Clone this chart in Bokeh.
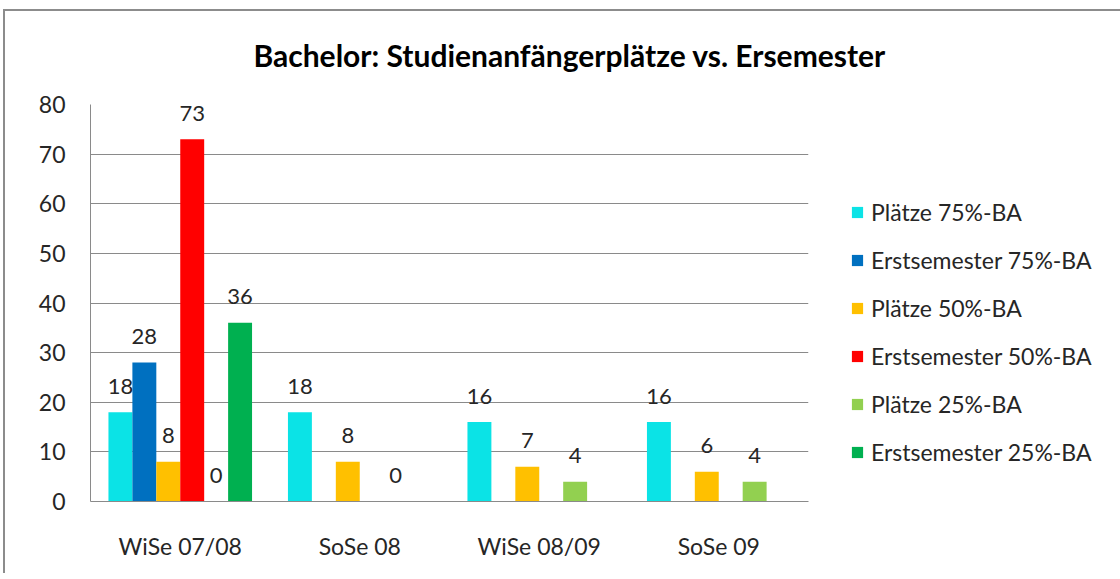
from bokeh.plotting import figure
from bokeh.models import (FactorRange, Range1d, ColumnDataSource, Legend, LegendItem,
                          Title, InlineStyleSheet)
from bokeh.transform import dodge
from bokeh.core.properties import value
from bokeh.embed import file_html
from bokeh.resources import INLINE

# ---- data ----
categories = ["WiSe 07/08", "SoSe 08", "WiSe 08/09", "SoSe 09"]
series_names = ["Plätze 75%-BA", "Erstsemester 75%-BA", "Plätze 50%-BA",
                "Erstsemester 50%-BA", "Plätze 25%-BA", "Erstsemester 25%-BA"]
plaetze_75 = [18, 18, 16, 16]
erstsemester_75 = [28, None, None, None]
plaetze_50 = [8, 8, 7, 6]
erstsemester_50 = [73, None, None, None]
plaetze_25 = [0, 0, 4, 4]
erstsemester_25 = [36, None, None, None]
series_values = [plaetze_75, erstsemester_75, plaetze_50,
                 erstsemester_50, plaetze_25, erstsemester_25]
y_ticks = [0, 10, 20, 30, 40, 50, 60, 70, 80]
title_text = "Bachelor: Studienanfängerplätze vs. Ersemester"

colors = ["#0be3e6", "#0070c0", "#ffc000", "#ff0000", "#92d050", "#00b050"]
FONT = "Lato"
TXT = "#262626"
GRID = "#8a8a8a"

p = figure(x_range=FactorRange(*categories, range_padding=0),
           y_range=Range1d(0, 80),
           frame_width=718, frame_height=397,
           output_backend="svg", toolbar_location=None,
           min_border_left=90, min_border_right=296, min_border_top=104,
           min_border_bottom=62)
p.stylesheets = [InlineStyleSheet(css="""
:host { position: relative; }
:host::before { content: ''; position: absolute; left: 3px; top: 9px; right: -10px; bottom: -10px;
  border-left: 2px solid #8c8c8c; border-top: 2px solid #8c8c8c;
  pointer-events: none; z-index: 100; }
""")]
p.outline_line_color = None
p.background_fill_color = "white"
p.border_fill_color = "white"

bar_w = 0.8 / 6
offsets = [(-2.5 + k) * bar_w for k in range(6)]

items = []
for name, vals, col, off in zip(series_names, series_values, colors, offsets):
    xs = [c for c, v in zip(categories, vals) if v is not None]
    ys = [v for v in vals if v is not None]
    src = ColumnDataSource(dict(x=xs, top=ys, label=[str(v) for v in ys]))
    r = p.vbar(x=dodge("x", off, range=p.x_range), top="top", width=bar_w,
               source=src, fill_color=col, line_color=None)
    p.text(x=dodge("x", off, range=p.x_range), y="top", text="label", source=src,
           text_align="center", text_baseline="middle", y_offset=-26,
           text_font=value(FONT), text_font_size="22px", text_color=TXT)
    items.append(LegendItem(label=name, renderers=[r]))

legend = Legend(items=items, location=(42, 35), orientation="vertical",
                border_line_color=None, background_fill_alpha=0,
                padding=0, margin=0, spacing=20, label_height=20,
                glyph_height=14, glyph_width=14, label_standoff=7,
                label_text_font=FONT, label_text_font_size="23px",
                label_text_color=TXT)
p.add_layout(legend, "right")

# title
p.add_layout(Title(text=title_text, align="left", offset=163, standoff=64,
                   text_font=FONT, text_font_style="bold",
                   text_font_size="30px", text_color="black"), "above")

# axes
p.yaxis.ticker = y_ticks
p.yaxis.major_tick_line_color = None
p.yaxis.minor_tick_line_color = None
p.yaxis.major_label_standoff = 19
p.yaxis.axis_line_color = GRID
p.yaxis.major_label_text_font = FONT
p.yaxis.major_label_text_font_size = "23px"
p.yaxis.major_label_text_color = TXT

p.xaxis.major_tick_line_color = None
p.xaxis.axis_line_color = GRID
p.xaxis.major_label_standoff = 24
p.xaxis.major_label_text_font = FONT
p.xaxis.major_label_text_font_size = "23px"
p.xaxis.major_label_text_color = TXT

p.xgrid.grid_line_color = None
p.ygrid.grid_line_color = GRID
p.ygrid.ticker = y_ticks

open("out.html", "w").write(file_html(p, INLINE))
